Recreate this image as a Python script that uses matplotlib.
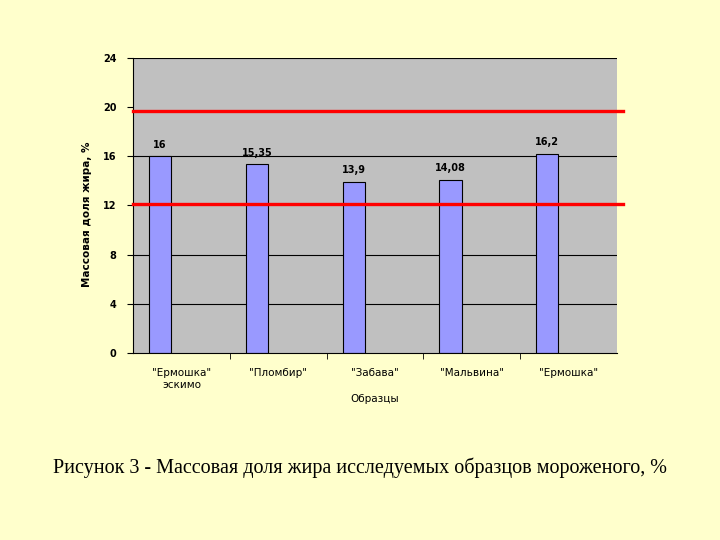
import matplotlib.pyplot as plt
import numpy as np

# данные
samples = ['"Ермошка"\nэскимо', '"Пломбир"', '"Забава"', '"Мальвина"', '"Ермошка"']
fat = [16, 15.35, 13.9, 14.08, 16.2]
value_labels = ['16', '15,35', '13,9', '14,08', '16,2']
limits = [19.7, 12.1]
yticks = [0, 4, 8, 12, 16, 20, 24]
grid_lines = [4, 8, 16, 24]  # 12 и 20 закрыты красными линиями

bg = '#FFFFCC'
fig = plt.figure(figsize=(7.2, 5.4), dpi=100, facecolor=bg)
ax = fig.add_axes([0.1847, 0.3463, 0.6722, 0.5463])
ax.set_facecolor('#C0C0C0')

x = np.arange(len(samples))
bar_x = x - 0.22
ax.hlines(grid_lines, -0.5, len(samples) - 0.5, color='black', lw=0.8, zorder=1)
ax.bar(bar_x, fat, width=0.23, color='#9999FF', edgecolor='black', linewidth=0.8, zorder=2)
for bx, v, lab in zip(bar_x, fat, value_labels):
    ax.text(bx, v + 0.55, lab, ha='center', va='bottom', fontsize=7, fontweight='bold')

# нормативные границы
for lim in limits:
    ax.plot([0, 1.012], [lim, lim], transform=ax.get_yaxis_transform(),
            color='red', lw=2.4, clip_on=False, zorder=3)

ax.set_xlim(-0.5, len(samples) - 0.5)
ax.set_ylim(0, 24)
ax.set_yticks(yticks)
ax.set_yticklabels([str(t) for t in yticks], fontsize=7, fontweight='bold')

ax.set_xticks(x)
ax.set_xticklabels(samples, fontsize=7.5)
ax.tick_params(axis='x', length=0, pad=11)
ax.set_xticks(np.arange(0.5, len(samples) - 0.5, 1), minor=True)
ax.tick_params(axis='x', which='minor', length=4, direction='out', color='black')
ax.tick_params(axis='y', length=4, direction='out', pad=8)

for s in ['top', 'right']:
    ax.spines[s].set_visible(False)
ax.spines['left'].set_linewidth(0.8)
ax.spines['bottom'].set_linewidth(0.8)

ax.set_xlabel('Образцы', fontsize=7.5)
ax.xaxis.set_label_coords(0.5, -0.14)
ax.set_ylabel('Массовая доля жира, %', fontsize=7.5, fontweight='bold')
ax.yaxis.set_label_coords(-0.085, 0.47)

fig.text(0.5, 0.133, 'Рисунок 3 - Массовая доля жира исследуемых образцов мороженого, %',
         ha='center', va='center', fontsize=14.5, family='Liberation Serif')

fig.savefig('out.png', dpi=100, facecolor=bg)
